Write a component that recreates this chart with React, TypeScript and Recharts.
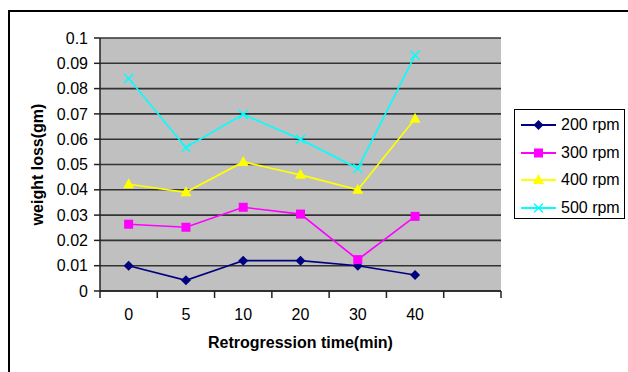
import { LineChart, Line, XAxis, YAxis, CartesianGrid } from "recharts";

// retrogression time (min), last slot is empty like in the original sheet
const categories = ["0", "5", "10", "20", "30", "40", ""];

const rpm200 = [0.01, 0.0042, 0.012, 0.012, 0.01, 0.0063];
const rpm300 = [0.0264, 0.0252, 0.0331, 0.0304, 0.0124, 0.0295];
const rpm400 = [0.0422, 0.039, 0.051, 0.0459, 0.04, 0.0681];
const rpm500 = [0.084, 0.0567, 0.0698, 0.06, 0.0484, 0.0932];

const yTicks = [0, 0.01, 0.02, 0.03, 0.04, 0.05, 0.06, 0.07, 0.08, 0.09, 0.1];

const FONT = "'Liberation Sans', Arial, sans-serif";

const series = [
  { key: "200 rpm", values: rpm200, color: "#000080", shape: "diamond" },
  { key: "300 rpm", values: rpm300, color: "#ff00ff", shape: "square" },
  { key: "400 rpm", values: rpm400, color: "#ffff00", shape: "triangle" },
  { key: "500 rpm", values: rpm500, color: "#00ffff", shape: "cross" },
];

const data = categories.map((c, i) => {
  const row: Record<string, string | number | null> = { time: c };
  series.forEach((s) => {
    row[s.key] = i < s.values.length ? s.values[i] : null;
  });
  return row;
});

const W = 618;
const H = 360;
const M = { top: 26, left: 40, right: 127, bottom: 51 };
const YW = 50;
const plotW = W - M.left - M.right - YW;
const half = plotW / categories.length / 2;

function Marker({ shape, color, cx, cy }: { shape: string; color: string; cx: number; cy: number }) {
  if (shape === "diamond")
    return <path d={`M${cx},${cy - 5}L${cx + 5},${cy}L${cx},${cy + 5}L${cx - 5},${cy}Z`} fill={color} />;
  if (shape === "square") return <rect x={cx - 4.5} y={cy - 4.5} width={9} height={9} fill={color} />;
  if (shape === "triangle")
    return <path d={`M${cx},${cy - 6}L${cx + 5.5},${cy + 4}L${cx - 5.5},${cy + 4}Z`} fill={color} />;
  return (
    <g stroke={color} strokeWidth={1.5}>
      <line x1={cx - 4.5} y1={cy - 4.5} x2={cx + 4.5} y2={cy + 4.5} />
      <line x1={cx - 4.5} y1={cy + 4.5} x2={cx + 4.5} y2={cy - 4.5} />
    </g>
  );
}

const XTick = (props: any) => {
  const { x, y, payload, index } = props;
  return (
    <g>
      <line x1={x - half} y1={y} x2={x - half} y2={y + 7} stroke="#222" strokeWidth={1.5} />
      {index === categories.length - 1 && (
        <line x1={x + half} y1={y} x2={x + half} y2={y + 7} stroke="#222" strokeWidth={1.5} />
      )}
      <text x={x} y={y + 29} textAnchor="middle" fontSize={16} fill="#000" fontFamily={FONT}>
        {payload.value}
      </text>
    </g>
  );
};

export default function App() {
  return (
    <div
      style={{
        position: "fixed",
        left: 8,
        top: 10,
        width: 640,
        height: 380,
        borderLeft: "2px solid #000",
        borderTop: "2px solid #000",
        background: "#fff",
        fontFamily: FONT,
      }}
    >
      <div style={{ position: "relative", width: W, height: H }}>
        <LineChart width={W} height={H} data={data} margin={M}>
          <CartesianGrid vertical={false} fill="#c0c0c0" stroke="#333" strokeWidth={1.6} />
          <XAxis
            dataKey="time"
            interval={0}
            padding={{ left: half, right: half }}
            tickSize={0}
            tickMargin={0}
            tickLine={false}
            tick={XTick}
            height={30}
            axisLine={{ stroke: "#222", strokeWidth: 1.5 }}
            label={{
              content: (p: any) => (
                <text
                  x={p.viewBox.x + p.viewBox.width / 2}
                  y={p.viewBox.y + 57}
                  textAnchor="middle"
                  fontSize={16}
                  fontWeight="bold"
                  fill="#000"
                  fontFamily={FONT}
                >
                  Retrogression time(min)
                </text>
              ),
            }}
          />
          <YAxis
            width={YW}
            domain={[0, 0.1]}
            ticks={yTicks}
            tickFormatter={(v: number) => String(+v.toFixed(2))}
            tickSize={6}
            tickMargin={6}
            tick={{ fontSize: 16, fill: "#000", fontFamily: FONT }}
            tickLine={{ stroke: "#222", strokeWidth: 1.5 }}
            axisLine={{ stroke: "#222", strokeWidth: 1.5 }}
            label={{
              content: (p: any) => {
                const cx = p.viewBox.x - 13;
                const cy = p.viewBox.y + p.viewBox.height / 2;
                return (
                  <text
                    x={cx}
                    y={cy}
                    transform={`rotate(-90 ${cx} ${cy})`}
                    textAnchor="middle"
                    dominantBaseline="central"
                    fontSize={16}
                    fontWeight="bold"
                    fill="#000"
                    fontFamily={FONT}
                  >
                    weight loss(gm)
                  </text>
                );
              },
            }}
          />
          <YAxis
            yAxisId="right"
            orientation="right"
            width={0}
            tick={false}
            tickLine={false}
            axisLine={{ stroke: "#808080", strokeWidth: 2 }}
          />
          {series.map((s) => (
            <Line
              key={s.key}
              dataKey={s.key}
              stroke={s.color}
              strokeWidth={1.6}
              isAnimationActive={false}
              dot={(p: any) =>
                p.cy == null ? (
                  <g key={p.index} />
                ) : (
                  <Marker key={p.index} shape={s.shape} color={s.color} cx={p.cx} cy={p.cy} />
                )
              }
              activeDot={false}
            />
          ))}
        </LineChart>
        <div
          style={{
            position: "absolute",
            left: 504,
            top: 97,
            width: 111,
            height: 110,
            boxSizing: "border-box",
            border: "1px solid #000",
            background: "#fff",
            paddingTop: 1,
          }}
        >
          {series.map((s) => (
            <div key={s.key} style={{ height: 27.7, display: "flex", alignItems: "center" }}>
              <svg width={46} height={20} style={{ flex: "none" }}>
                <line x1={6} y1={10} x2={41} y2={10} stroke={s.color} strokeWidth={2} />
                <Marker shape={s.shape} color={s.color} cx={23.5} cy={10} />
              </svg>
              <span style={{ fontSize: 16, color: "#000", whiteSpace: "nowrap" }}>{s.key}</span>
            </div>
          ))}
        </div>
      </div>
    </div>
  );
}
